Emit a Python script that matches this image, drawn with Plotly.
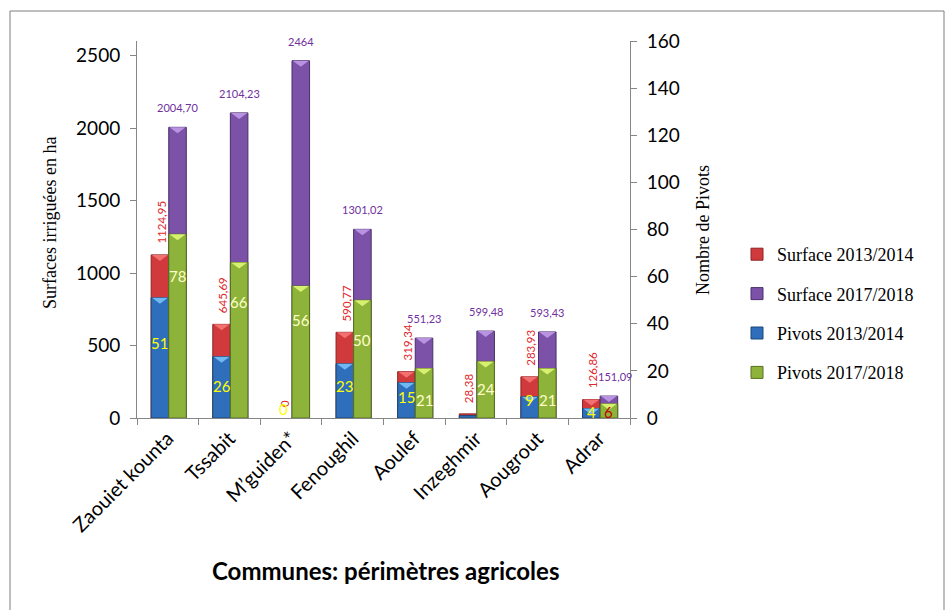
import plotly.graph_objects as go

# ---- data -------------------------------------------------------------
communes = ["Zaouiet kounta", "Tssabit", "M’guiden*", "Fenoughil",
            "Aoulef", "Inzeghmir", "Aougrout", "Adrar"]
surface_2013 = [1124.95, 645.69, 0, 590.77, 319.34, 28.38, 283.93, 126.86]
surface_2017 = [2004.70, 2104.23, 2464, 1301.02, 551.23, 599.48, 593.43, 151.09]
pivots_2013 = [51, 26, 0, 23, 15, 1, 9, 4]
pivots_2017 = [78, 66, 56, 50, 21, 24, 21, 6]
show_pivot_label_2013 = [True, True, True, True, True, False, True, True]

# heights (in pivot units) where the pivot count labels sit
pivot_label_at_2013 = [31.9, 13.6, 3.8, 13.6, 8.9, None, 7.7, 2.5]
pivot_label_at_2017 = [60.4, 49.4, 41.7, 33.2, 7.7, 12.3, 7.7, 2.5]

# ---- layout geometry --------------------------------------------------
W, H = 948, 610
M_L, M_R, M_T, M_B = 137, 318, 41, 192
PLOT_W = W - M_L - M_R
PLOT_H = H - M_T - M_B
Y1_MAX, Y2_MAX = 2600, 160

BAR_W = 0.285
OFF_A, OFF_B = -0.27, 0.015          # left bar (2013/2014), right bar (2017/2018)
CEN_A, CEN_B = OFF_A + BAR_W / 2, OFF_B + BAR_W / 2

RED, RED_TOP, RED_EDGE = "#D03A3C", "#F27070", "#8E2224"
PUR, PUR_TOP, PUR_EDGE = "#7B52A8", "#B893E2", "#4A2F6A"
BLU, BLU_TOP, BLU_EDGE = "#2F6EBA", "#70B8F2", "#1C4678"
GRN, GRN_TOP, GRN_EDGE = "#8DB33A", "#D8F070", "#56701F"

xs = list(range(len(communes)))


def fr(s):
    return s.replace(".", ",")


def edge_widths(vals):
    return [1 if v else 0 for v in vals]


fig = go.Figure()

fig.add_trace(go.Bar(x=xs, y=surface_2013, name="Surface 2013/2014", yaxis="y",
                     width=BAR_W, offset=OFF_A, legendgroup="a",
                     marker=dict(color=RED, line=dict(color=RED_EDGE, width=edge_widths(surface_2013)))))
fig.add_trace(go.Bar(x=xs, y=surface_2017, name="Surface 2017/2018", yaxis="y",
                     width=BAR_W, offset=OFF_B, legendgroup="b",
                     marker=dict(color=PUR, line=dict(color=PUR_EDGE, width=edge_widths(surface_2017)))))
fig.add_trace(go.Bar(x=xs, y=pivots_2013, name="Pivots 2013/2014", yaxis="y2",
                     width=BAR_W, offset=OFF_A, legendgroup="c",
                     marker=dict(color=BLU, line=dict(color=BLU_EDGE, width=edge_widths(pivots_2013)))))
fig.add_trace(go.Bar(x=xs, y=pivots_2017, name="Pivots 2017/2018", yaxis="y2",
                     width=BAR_W, offset=OFF_B, legendgroup="d",
                     marker=dict(color=GRN, line=dict(color=GRN_EDGE, width=edge_widths(pivots_2017)))))

# ---- bevel triangles on bar tops ---------------------------------------
shapes = []
TRI_PX = 6


def bevel(xc, top, yref, ymax, color):
    d = TRI_PX * ymax / PLOT_H
    if top * PLOT_H / ymax < 8:
        return None
    hw = BAR_W / 2 * 0.92
    return dict(type="path", xref="x", yref=yref, layer="above",
                path=f"M {xc - hw},{top} L {xc + hw},{top} L {xc},{top - d} Z",
                fillcolor=color, line=dict(width=0))


for i in xs:
    for s in (bevel(i + CEN_A, surface_2013[i], "y", Y1_MAX, RED_TOP),
              bevel(i + CEN_B, surface_2017[i], "y", Y1_MAX, PUR_TOP),
              bevel(i + CEN_A, pivots_2013[i], "y2", Y2_MAX, BLU_TOP),
              bevel(i + CEN_B, pivots_2017[i], "y2", Y2_MAX, GRN_TOP)):
        if s:
            shapes.append(s)

# outer chart frame
shapes.append(dict(type="rect", xref="paper", yref="paper",
                   x0=(10 - M_L) / PLOT_W, x1=(944 - M_L) / PLOT_W,
                   y0=-0.6, y1=(H - M_B - 11) / PLOT_H,
                   line=dict(color="#7F7F7F", width=1), fillcolor="rgba(0,0,0,0)"))

# ---- value labels ------------------------------------------------------
ann = []
LBL = "Lato"
for i in xs:
    ann.append(dict(x=i + CEN_A + 0.02, y=surface_2013[i], xref="x", yref="y",
                    text=fr(f"{surface_2013[i]:.2f}") if surface_2013[i] else "0",
                    textangle=-90, yanchor="bottom", xanchor="center", yshift=9,
                    showarrow=False, font=dict(family=LBL, size=11.5, color="#E0262B")))
    ann.append(dict(x=i + CEN_B, y=surface_2017[i], xref="x", yref="y",
                    text=fr(f"{surface_2017[i]:.2f}") if surface_2017[i] % 1 else f"{surface_2017[i]:.0f}",
                    yanchor="bottom", xanchor="center", yshift=11,
                    xshift=6 if i == len(communes) - 1 else 0,
                    showarrow=False, font=dict(family=LBL, size=11, color="#7030A0")))
    if show_pivot_label_2013[i]:
        ann.append(dict(x=i + CEN_A, y=pivot_label_at_2013[i], xref="x", yref="y2",
                        text=str(pivots_2013[i]), showarrow=False,
                        font=dict(family=LBL, size=15, color="#FFFF00")))
    ann.append(dict(x=i + CEN_B, y=pivot_label_at_2017[i], xref="x", yref="y2",
                    text=str(pivots_2017[i]), showarrow=False,
                    font=dict(family=LBL, size=15,
                              color="#C00000" if pivots_2017[i] < 10 else "#FFFFC8")))

# axis titles
ann.append(dict(text="Surfaces irriguées en ha", xref="paper", yref="paper",
                x=(50 - M_L) / PLOT_W, y=(H - M_B - 223) / PLOT_H, textangle=-90,
                xanchor="center", yanchor="middle",
                showarrow=False, font=dict(family="Liberation Serif", size=18, color="#000")))
ann.append(dict(text="Nombre de Pivots", xref="paper", yref="paper",
                x=(703 - M_L) / PLOT_W, y=(H - M_B - 230) / PLOT_H, textangle=-90,
                xanchor="center", yanchor="middle",
                showarrow=False, font=dict(family="Liberation Serif", size=18, color="#000")))
ann.append(dict(text="<b>Communes: périmètres agricoles</b>", xref="paper", yref="paper",
                x=(385 - M_L) / PLOT_W, y=(H - M_B - 570) / PLOT_H,
                xanchor="center", yanchor="middle",
                showarrow=False, font=dict(family="Lato", size=24, color="#000")))

AX = "#868686"
tickfont = dict(family="Lato", size=19, color="#000")

fig.update_layout(
    template="none",
    width=W, height=H,
    margin=dict(l=M_L, r=M_R, t=M_T, b=M_B, autoexpand=False),
    paper_bgcolor="white", plot_bgcolor="white",
    barmode="overlay",
    showlegend=True,
    legend=dict(x=(737 - M_L) / PLOT_W, y=(H - M_B - 236) / PLOT_H,
                xanchor="left", yanchor="top", tracegroupgap=13,
                font=dict(family="Liberation Serif", size=18, color="#000"),
                bgcolor="rgba(0,0,0,0)", itemwidth=30),
    xaxis=dict(range=[-0.5, len(communes) - 0.5], tickmode="array",
               tickvals=xs, ticktext=communes, tickangle=-45, ticks="",
               showline=True, linecolor=AX, linewidth=1, showgrid=False,
               zeroline=False, tickfont=dict(family="Lato", size=20, color="#000"),
               automargin=False,
               minor=dict(tickmode="array",
                          tickvals=[k - 0.5 for k in range(len(communes) + 1)],
                          ticks="outside", ticklen=6, tickcolor=AX, showgrid=False)),
    yaxis=dict(range=[0, Y1_MAX], tick0=0, dtick=500, ticks="outside", ticklen=6,
               tickcolor=AX, showline=True, linecolor=AX, linewidth=1,
               showgrid=False, zeroline=False, tickfont=tickfont, automargin=False,
               ticklabelstandoff=6),
    yaxis2=dict(range=[0, Y2_MAX], tick0=0, dtick=20, ticks="outside", ticklen=6,
                tickcolor=AX, showline=True, linecolor=AX, linewidth=1,
                overlaying="y", side="right", showgrid=False, zeroline=False,
                tickfont=tickfont, automargin=False, ticklabelstandoff=6),
    shapes=shapes,
    annotations=ann,
)

fig.write_html("out.html")
